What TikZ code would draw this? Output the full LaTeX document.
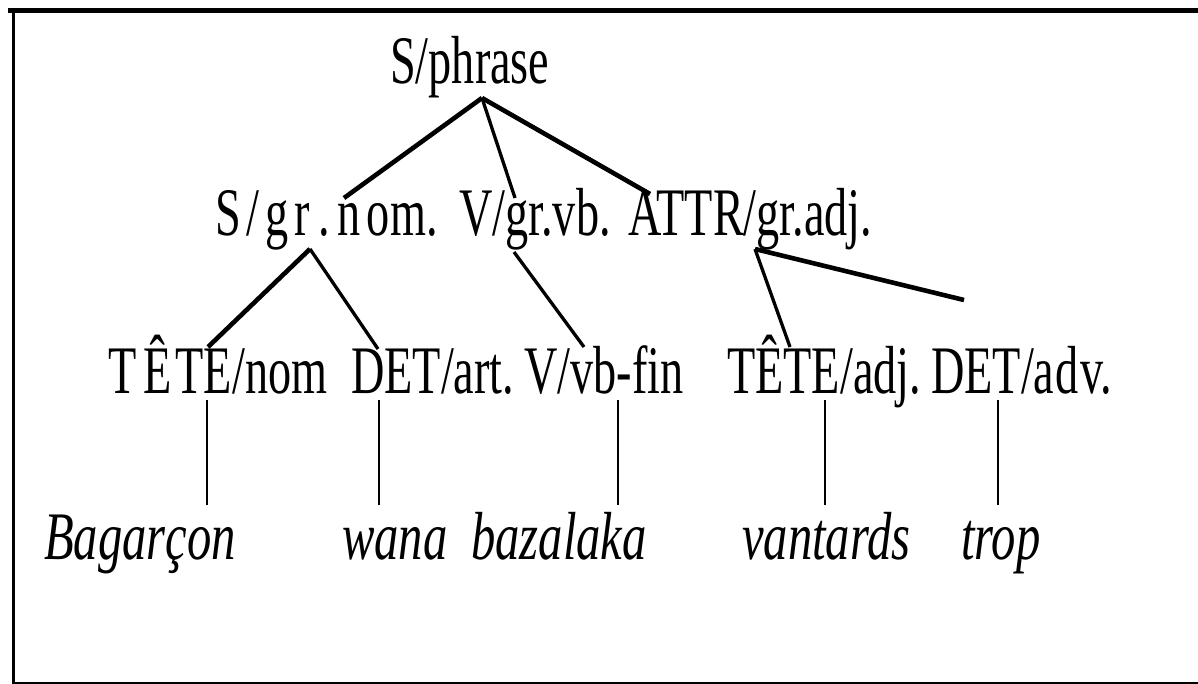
\documentclass[tikz,border=0pt]{standalone}
\usepackage{fontspec}
\newfontfamily\cond[FakeStretch=0.68]{Liberation Serif}
\newfontfamily\condit[FakeStretch=0.715]{Liberation Serif Italic}
\begin{document}
\begin{tikzpicture}[x=1pt,y=-1pt,
  lbl/.style={anchor=base west,inner sep=0pt,font=\cond\fontsize{68}{74}\selectfont},
  wrd/.style={anchor=base west,inner sep=0pt,font=\condit\fontsize{68}{74}\selectfont},
  heavy/.style={line width=4.6pt},
  medium/.style={line width=3.3pt},
  light/.style={line width=2.4pt},
  framebar/.style={line cap=rect}]
\useasboundingbox (0,0) rectangle (1198,684);
% frame
\draw[framebar,line width=5pt] (10,11) -- (1198,11);
\draw[line width=3.8pt] (13.5,8.5) -- (13.5,684);
\draw[line width=1.6pt] (12,682.8) -- (1198,682.8);
% row 1
\node[lbl] (phrase) at (390,84) {S/phrase};
% row 2
\node[lbl] (grnom) at (215,236) {S\kern6pt/\kern6pt g\kern6pt r\kern8pt.\kern8pt n\kern6pt om.};
\node[lbl] (grvb) at (459,236) {V/gr.vb.};
\node[lbl] (gradj) at (628,236) {ATTR/gr.adj.};
% row 3
\node[lbl] (tetenom) at (108,393) {T\kern7pt Ê\kern4pt TE/nom};
\node[lbl] (detart) at (351,393) {DET/art.};
\node[lbl] (vbfin) at (524,393) {V/vb-fin};
\node[lbl] (teteadj) at (727,393) {TÊTE/adj.};
\node[lbl] (detadv) at (931,393) {DET/a\kern1.5pt d\kern1.5pt v.};
% row 4
\node[wrd] (w1) at (44,559) {Bagarçon};
\node[wrd] (w2) at (342,559) {wana};
\node[wrd] (w3) at (471,559) {bazalaka};
\node[wrd] (w4) at (742,559) {vantards};
\node[wrd] (w5) at (961,559) {trop};
% connector ends
\coordinate (phrase-foot) at (482,98);
\coordinate (grnom-top) at (344,198);
\coordinate (grvb-top) at (515,198);
\coordinate (gradj-top) at (650,194);
\coordinate (grnom-foot) at (310,249);
\coordinate (grvb-foot) at (514,252);
\coordinate (gradj-foot) at (755,249);
\coordinate (gradj-end) at (964,300);
\coordinate (tetenom-top) at (208,347);
\coordinate (detart-top) at (378,349);
\coordinate (vbfin-top) at (584,347);
\coordinate (teteadj-top) at (790,347);
\coordinate (tetenom-foot) at (207,400);
\coordinate (detart-foot) at (379,400);
\coordinate (vbfin-foot) at (618,400);
\coordinate (teteadj-foot) at (825,400);
\coordinate (detadv-foot) at (998,400);
\coordinate (w1-top) at (207,505);
\coordinate (w2-top) at (379,505);
\coordinate (w3-top) at (618,505);
\coordinate (w4-top) at (825,505);
\coordinate (w5-top) at (998,505);
% tree branches
\draw[heavy] (phrase-foot) -- (grnom-top);
\draw[medium] (phrase-foot) -- (grvb-top);
\draw[heavy] (phrase-foot) -- (gradj-top);
\draw[heavy] (grnom-foot) -- (tetenom-top);
\draw[medium] (grnom-foot) -- (detart-top);
\draw[medium] (grvb-foot) -- (vbfin-top);
\draw[medium] (gradj-foot) -- (teteadj-top);
\draw[heavy] (gradj-foot) -- (gradj-end);
\draw[light] (tetenom-foot) -- (w1-top);
\draw[light] (detart-foot) -- (w2-top);
\draw[light] (vbfin-foot) -- (w3-top);
\draw[light] (teteadj-foot) -- (w4-top);
\draw[light] (detadv-foot) -- (w5-top);
\end{tikzpicture}
\end{document}
